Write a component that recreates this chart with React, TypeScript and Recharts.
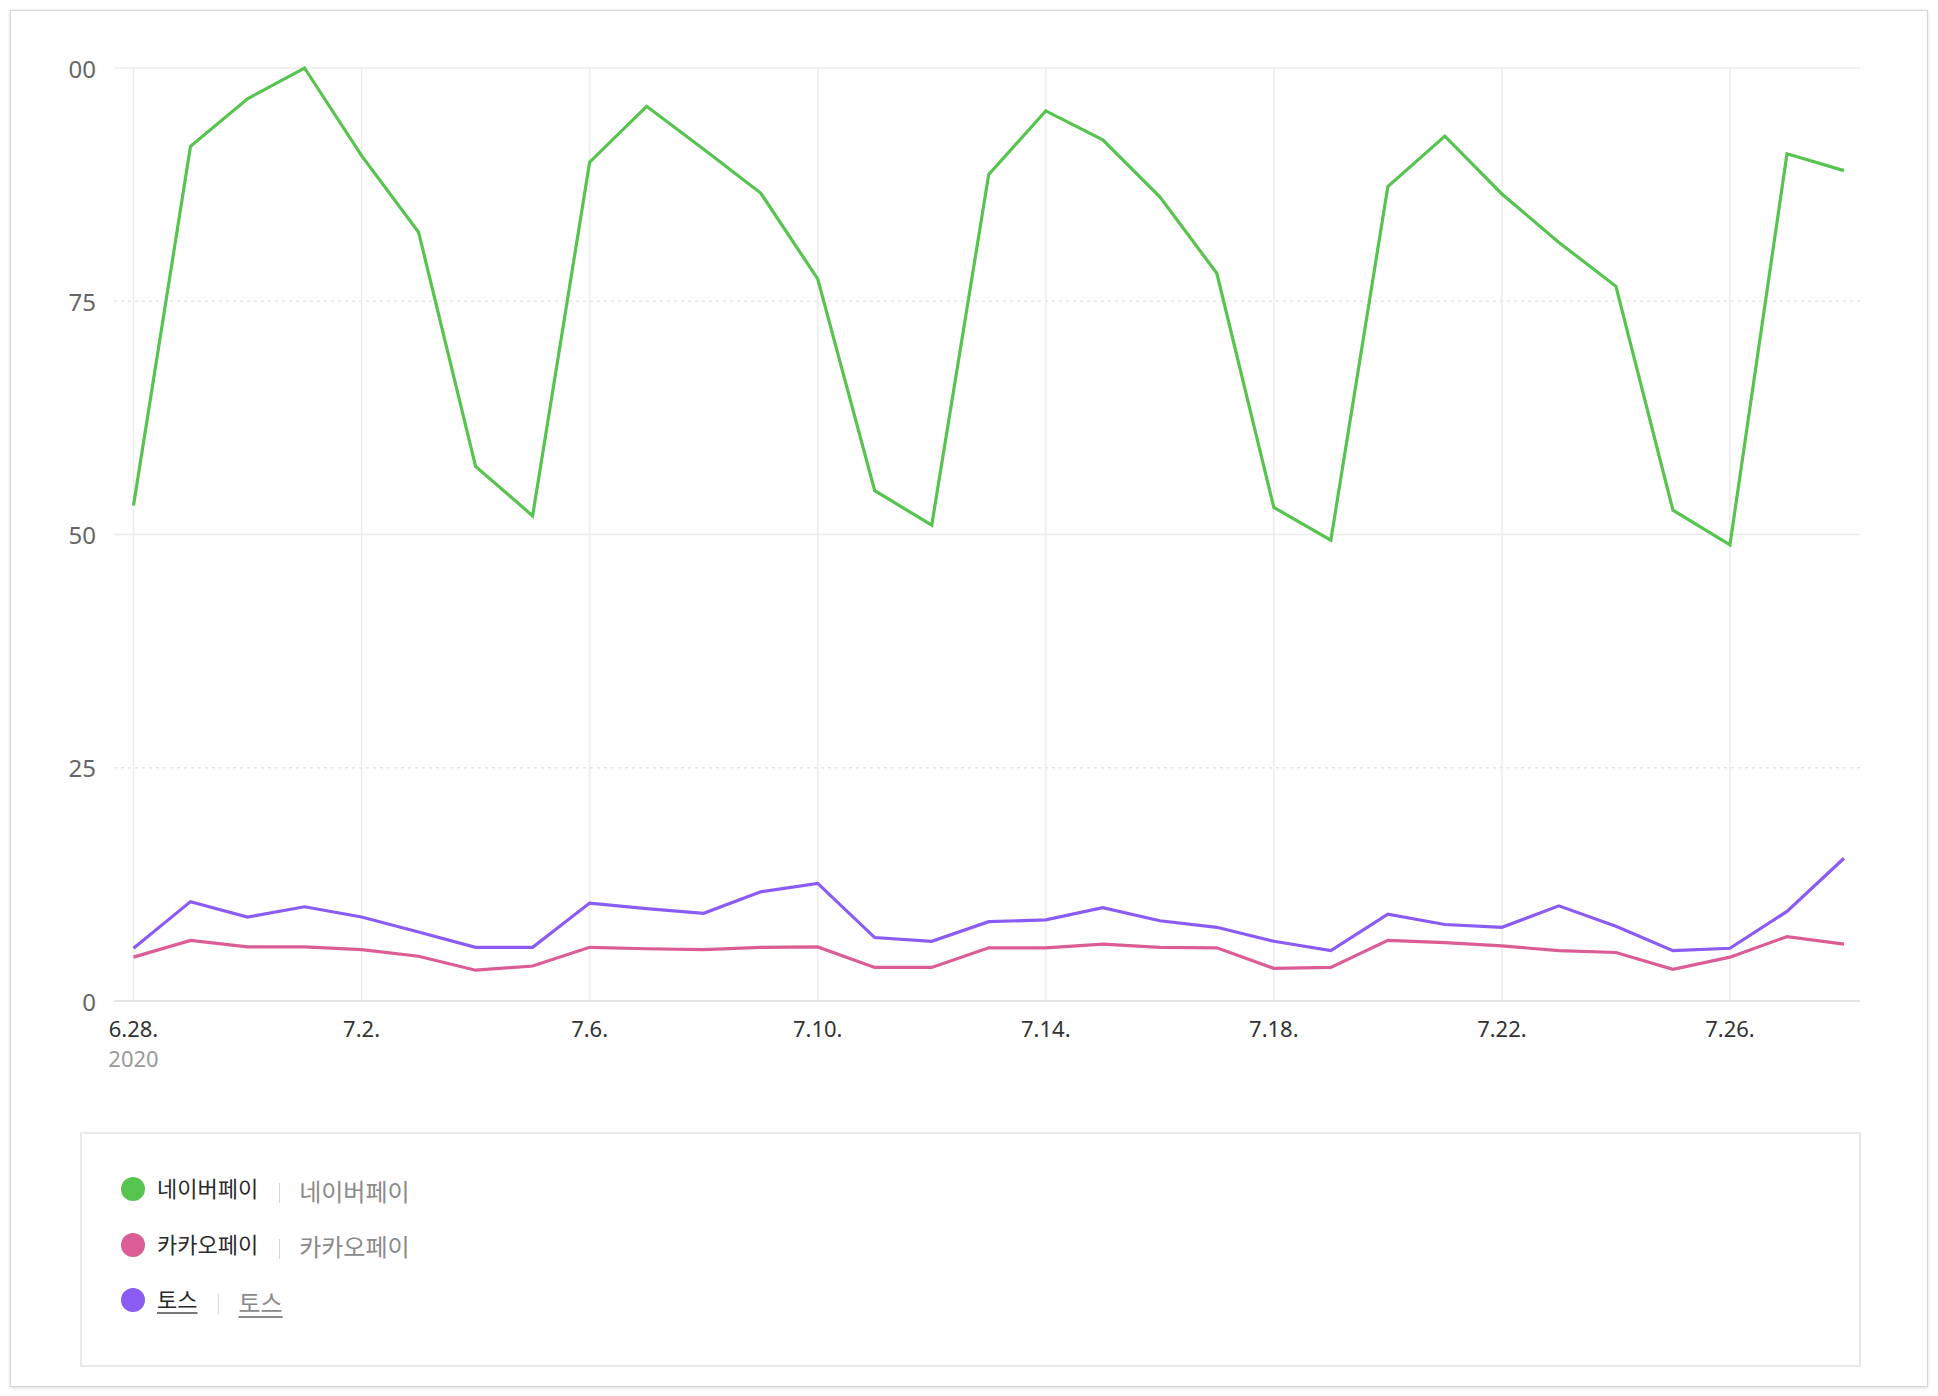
import React from "react";
import { LineChart, Line, XAxis, YAxis, ReferenceLine } from "recharts";

const dates = [
  "6.28.", "6.29.", "6.30.", "7.1.", "7.2.", "7.3.", "7.4.", "7.5.", "7.6.", "7.7.",
  "7.8.", "7.9.", "7.10.", "7.11.", "7.12.", "7.13.", "7.14.", "7.15.", "7.16.", "7.17.",
  "7.18.", "7.19.", "7.20.", "7.21.", "7.22.", "7.23.", "7.24.", "7.25.", "7.26.", "7.27.", "7.28.",
];

const naverPay = [
  53.1, 91.6, 96.7, 100, 90.6, 82.4, 57.3, 52.0, 89.9, 95.9,
  91.3, 86.6, 77.4, 54.7, 51.0, 88.6, 95.4, 92.3, 86.2, 78.0,
  52.9, 49.4, 87.3, 92.7, 86.5, 81.3, 76.6, 52.6, 48.9, 90.8, 89.0,
];

const kakaoPay = [
  4.7, 6.5, 5.8, 5.8, 5.5, 4.8, 3.3, 3.75, 5.75, 5.6,
  5.5, 5.75, 5.8, 3.6, 3.6, 5.7, 5.7, 6.1, 5.75, 5.7,
  3.5, 3.6, 6.5, 6.25, 5.9, 5.4, 5.2, 3.4, 4.7, 6.9, 6.1,
];

const toss = [
  5.65, 10.65, 9.0, 10.1, 9.0, 7.4, 5.75, 5.75, 10.5, 9.9,
  9.4, 11.7, 12.6, 6.8, 6.4, 8.5, 8.7, 10.0, 8.6, 7.9,
  6.4, 5.4, 9.3, 8.2, 7.9, 10.2, 8.0, 5.4, 5.65, 9.6, 15.3,
];

const xTicks = ["6.28.", "7.2.", "7.6.", "7.10.", "7.14.", "7.18.", "7.22.", "7.26."];
const yearLabel = "2020";
const yTicks = [0, 25, 50, 75, 100];
const yTickLabels = ["0", "25", "50", "75", "00"];
const solidGridY = [100, 50];
const dashedGridY = [75, 25];

const seriesNames = ["네이버페이", "카카오페이", "토스"];
const seriesKeys = ["naver", "kakao", "toss"];
const seriesColors = ["#58c450", "#dc5c96", "#8b5cf3"];

const data = dates.map((d, i) => ({
  date: d,
  naver: naverPay[i],
  kakao: kakaoPay[i],
  toss: toss[i],
}));

const FONT = "'Noto Sans', 'Noto Sans CJK KR', sans-serif";
const KFONT = "'Noto Sans CJK KR', 'Noto Sans', sans-serif";

const XTick = (props: any) => {
  const { x, y, payload } = props;
  return (
    <g>
      <text
        x={x}
        y={y + 27}
        textAnchor="middle"
        dominantBaseline="central"
        fontSize={22}
        fill="#333"
        fontFamily={FONT}
      >
        {payload.value}
      </text>
      {payload.value === dates[0] && (
        <text
          x={x}
          y={y + 57}
          textAnchor="middle"
          dominantBaseline="central"
          fontSize={22}
          fill="#9a9a9a"
          fontFamily={FONT}
        >
          {yearLabel}
        </text>
      )}
    </g>
  );
};

const YTick = (props: any) => {
  const { x, y, payload } = props;
  const idx = yTicks.indexOf(payload.value);
  return (
    <text
      x={x - 18}
      y={y}
      textAnchor="end"
      dominantBaseline="central"
      fontSize={24}
      fill="#666"
      fontFamily={FONT}
    >
      {idx >= 0 ? yTickLabels[idx] : payload.value}
    </text>
  );
};

export default function App() {
  return (
    <div style={{ position: "relative", width: 1930, height: 1388 }}>
      <div
        style={{
          position: "absolute",
          left: 2,
          top: 2,
          width: 1918,
          height: 1377,
          boxSizing: "border-box",
          border: "1px solid #d4d4d4",
          boxShadow: "0 1px 4px rgba(0,0,0,0.14)",
          background: "#fff",
        }}
      />
      <div style={{ position: "absolute", left: 0, top: 0 }}>
        <LineChart
          width={1900}
          height={1100}
          data={data}
          margin={{ top: 60, right: 48, bottom: 27, left: 46 }}
        >
          {xTicks.map((t) => (
            <ReferenceLine key={"vx" + t} x={t} stroke="#ececec" strokeWidth={1.5} />
          ))}
          {solidGridY.map((v) => (
            <ReferenceLine key={"sy" + v} y={v} stroke="#ececec" strokeWidth={1.5} />
          ))}
          {dashedGridY.map((v) => (
            <ReferenceLine
              key={"dy" + v}
              y={v}
              stroke="#e6e6e6"
              strokeWidth={1.5}
              strokeDasharray="3 4"
            />
          ))}
          <XAxis
            dataKey="date"
            ticks={xTicks}
            interval={0}
            padding={{ left: 19.5, right: 16 }}
            height={80}
            tickSize={0}
            tickMargin={0}
            tickLine={false}
            axisLine={{ stroke: "#e6e6e6", strokeWidth: 2 }}
            tick={<XTick />}
          />
          <YAxis
            domain={[0, 100]}
            ticks={yTicks}
            width={60}
            tickSize={0}
            tickMargin={0}
            tickLine={false}
            axisLine={false}
            tick={<YTick />}
          />
          {seriesKeys.map((k, i) => (
            <Line
              key={k}
              type="linear"
              dataKey={k}
              name={seriesNames[i]}
              stroke={seriesColors[i]}
              strokeWidth={3.2}
              dot={false}
              activeDot={false}
              isAnimationActive={false}
            />
          ))}
        </LineChart>
      </div>
      <div
        style={{
          position: "absolute",
          left: 72,
          top: 1124,
          width: 1781,
          height: 235,
          boxSizing: "border-box",
          border: "2px solid #e9e9e9",
          background: "#fff",
          fontFamily: KFONT,
        }}
      >
        {seriesNames.map((name, i) => (
          <div
            key={name}
            style={{
              position: "absolute",
              left: 39,
              top: 40 + i * 55.5,
              height: 30,
              display: "flex",
              alignItems: "center",
              whiteSpace: "nowrap",
            }}
          >
            <span
              style={{
                display: "inline-block",
                width: 24,
                height: 24,
                borderRadius: "50%",
                background: seriesColors[i],
                marginRight: 12,
              }}
            />
            <span
              style={{
                fontSize: 22,
                color: "#2a2a2a",
                fontWeight: 400,
                textDecoration: i === 2 ? "underline" : "none",
                textDecorationColor: "#777",
                textUnderlineOffset: 4,
                position: "relative",
                top: -2,
              }}
            >
              {name}
            </span>
            <span
              style={{
                display: "inline-block",
                width: 1,
                height: 20,
                background: "#d6d6d6",
                marginLeft: 21,
                marginRight: 19,
                position: "relative",
                top: 4,
              }}
            />
            <span
              style={{
                fontSize: 24,
                color: "#8a8a8a",
                textDecoration: i === 2 ? "underline" : "none",
                textUnderlineOffset: 4,
                position: "relative",
                top: 1,
              }}
            >
              {name}
            </span>
          </div>
        ))}
      </div>
    </div>
  );
}
